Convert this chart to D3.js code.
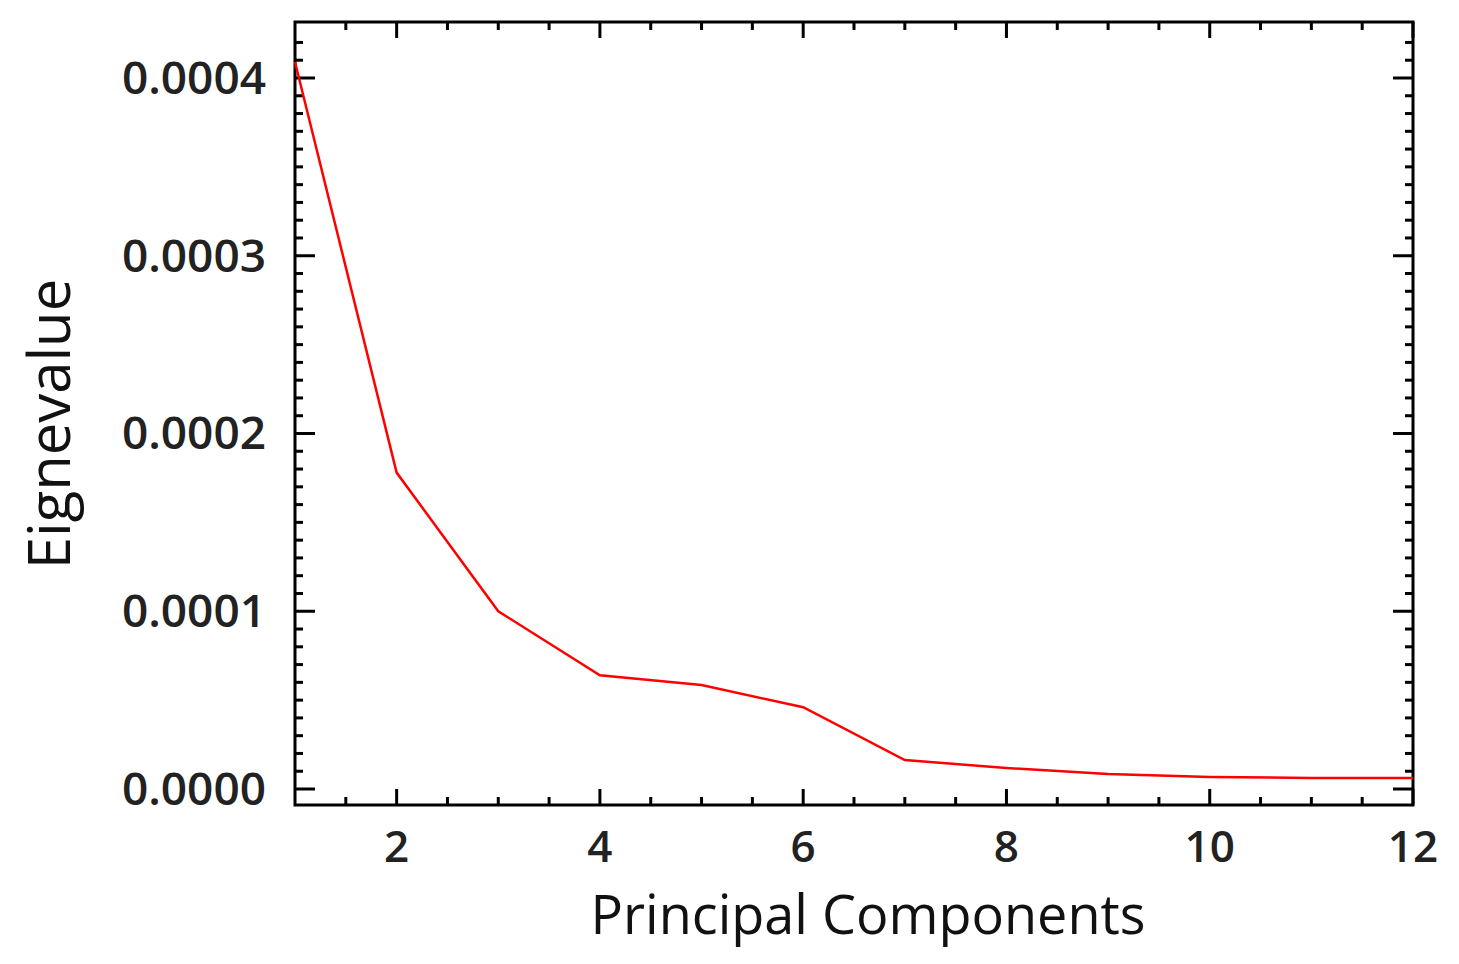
<!DOCTYPE html><html><head><meta charset="utf-8">
<script src="https://cdn.jsdelivr.net/npm/d3@7"></script>
<style>body{margin:0;background:#fff}</style></head><body>
<svg id="c" width="1459" height="964"></svg>
<script>
const components=[1,2,3,4,5,6,7,8,9,10,11,12];
const eigenvalues=[0.000409,0.000178,0.000100,0.000064,0.0000585,0.000046,0.0000163,0.0000118,0.0000084,0.0000068,0.0000062,0.0000062];
const xTicks=[2,4,6,8,10,12];
const yTicks=[0,0.0001,0.0002,0.0003,0.0004];
const svg=d3.select("#c");
const L=295,R=1413,T=22,B=805;
const x=d3.scaleLinear().domain([1,12]).range([L,R]);
const y=d3.scaleLinear().domain([-0.000009,0.0004315]).range([B,T]);
const g=svg.append("g");
const xMinor=d3.range(1.5,12,0.5).filter(v=>v%2!==0);
const yMinor=d3.range(0,0.00043,0.00001).filter((v,i)=>i%10!==0);
g.selectAll(".xm").data(xMinor).join("line").attr("x1",d=>x(d)).attr("x2",d=>x(d)).attr("y1",B).attr("y2",B-8).attr("stroke","#000").attr("stroke-width",3);
g.selectAll(".xmt").data(xMinor).join("line").attr("x1",d=>x(d)).attr("x2",d=>x(d)).attr("y1",T).attr("y2",T+8).attr("stroke","#000").attr("stroke-width",3);
g.selectAll(".xM").data(xTicks).join("line").attr("x1",d=>x(d)).attr("x2",d=>x(d)).attr("y1",B).attr("y2",B-16).attr("stroke","#000").attr("stroke-width",3);
g.selectAll(".xMt").data(xTicks).join("line").attr("x1",d=>x(d)).attr("x2",d=>x(d)).attr("y1",T).attr("y2",T+16).attr("stroke","#000").attr("stroke-width",3);
g.selectAll(".ym").data(yMinor).join("line").attr("y1",d=>y(d)).attr("y2",d=>y(d)).attr("x1",L).attr("x2",L+8).attr("stroke","#000").attr("stroke-width",3);
g.selectAll(".ymr").data(yMinor).join("line").attr("y1",d=>y(d)).attr("y2",d=>y(d)).attr("x1",R).attr("x2",R-8).attr("stroke","#000").attr("stroke-width",3);
g.selectAll(".yM").data(yTicks).join("line").attr("y1",d=>y(d)).attr("y2",d=>y(d)).attr("x1",L).attr("x2",L+20).attr("stroke","#000").attr("stroke-width",3);
g.selectAll(".yMr").data(yTicks).join("line").attr("y1",d=>y(d)).attr("y2",d=>y(d)).attr("x1",R).attr("x2",R-20).attr("stroke","#000").attr("stroke-width",3);
g.append("rect").attr("x",L).attr("y",T).attr("width",R-L).attr("height",B-T).attr("fill","none").attr("stroke","#000").attr("stroke-width",3);
g.selectAll(".xl").data(xTicks).join("text").attr("x",d=>x(d)).attr("y",862).attr("text-anchor","middle")
 .attr("font-family","Open Sans").attr("font-weight",600).attr("font-size",44).attr("fill","#222").text(d=>d);
g.selectAll(".yl").data(yTicks).join("text").attr("x",266).attr("y",d=>y(d)+16).attr("text-anchor","end")
 .attr("font-family","Open Sans").attr("font-weight",600).attr("font-size",46).attr("fill","#222").text(d=>d3.format(".4f")(d));
svg.append("text").attr("x",868).attr("y",934).attr("text-anchor","middle").attr("font-family","Open Sans").attr("font-size",54).attr("fill","#111").text("Principal Components");
svg.append("text").attr("transform","translate(70,424) rotate(-90)").attr("text-anchor","middle").attr("font-family","Open Sans").attr("font-size",58).attr("fill","#111").text("Eignevalue");
svg.append("path").datum(components.map((c,i)=>[c,eigenvalues[i]])).attr("fill","none").attr("stroke","#f00").attr("stroke-width",2.5)
 .attr("d",d3.line().x(d=>x(d[0])).y(d=>y(d[1])));
</script></body></html>
